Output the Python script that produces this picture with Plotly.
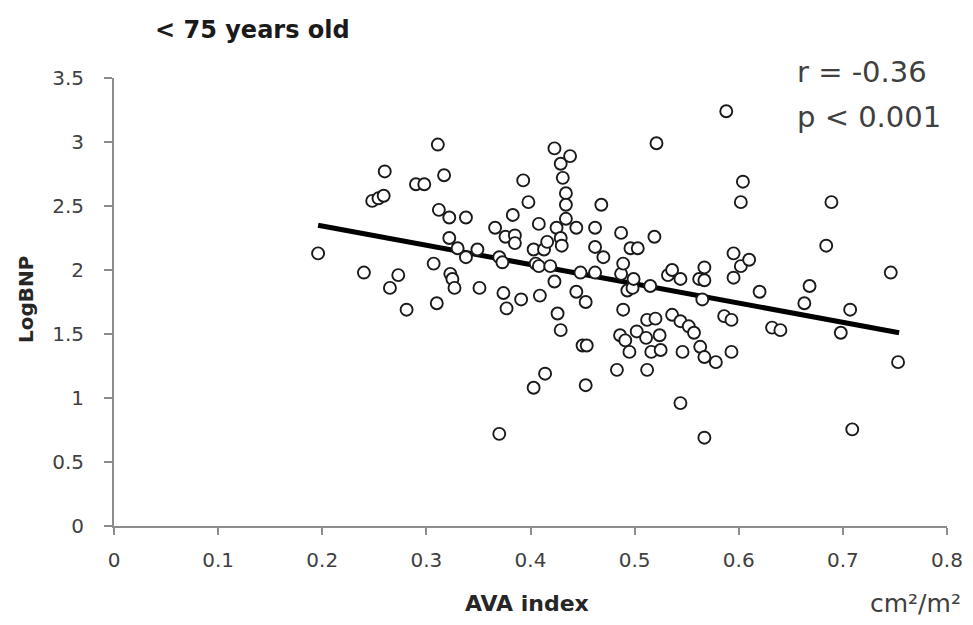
import plotly.graph_objects as go

# AVA index (cm2/m2) and LogBNP values
ava_index = [
    0.196, 0.240, 0.248, 0.254, 0.259, 0.260, 0.265, 0.273, 0.281, 0.290,
    0.298, 0.307, 0.310, 0.311, 0.312, 0.317, 0.322, 0.322, 0.323, 0.325,
    0.327, 0.330, 0.338, 0.338, 0.349, 0.351, 0.366, 0.370, 0.373, 0.370,
    0.374, 0.376, 0.377, 0.383, 0.385, 0.385, 0.391, 0.393, 0.398, 0.403,
    0.403, 0.405, 0.408, 0.408, 0.409, 0.413, 0.414, 0.416, 0.419, 0.423,
    0.423, 0.425, 0.426, 0.429, 0.429, 0.430, 0.429, 0.431, 0.434, 0.434,
    0.434, 0.438, 0.444, 0.444, 0.448, 0.450, 0.453, 0.453, 0.454, 0.462,
    0.462, 0.462, 0.468, 0.470, 0.487, 0.487, 0.489, 0.489, 0.483, 0.486,
    0.491, 0.495, 0.493, 0.498, 0.496, 0.503, 0.499, 0.502, 0.511, 0.512,
    0.512, 0.515, 0.516, 0.519, 0.520, 0.521, 0.524, 0.525, 0.532, 0.536,
    0.536, 0.544, 0.544, 0.544, 0.546, 0.552, 0.557, 0.562, 0.563, 0.565,
    0.567, 0.567, 0.567, 0.567, 0.578, 0.586, 0.588, 0.593, 0.593, 0.595,
    0.595, 0.602, 0.602, 0.604, 0.610, 0.620, 0.632, 0.640, 0.663, 0.668,
    0.684, 0.689, 0.698, 0.707, 0.709, 0.746, 0.753,
]
log_bnp = [
    2.13, 1.98, 2.54, 2.56, 2.58, 2.77, 1.86, 1.96, 1.69, 2.67,
    2.67, 2.05, 1.74, 2.98, 2.47, 2.74, 2.41, 2.25, 1.97, 1.93,
    1.86, 2.17, 2.41, 2.10, 2.16, 1.86, 2.33, 2.10, 2.06, 0.72,
    1.82, 2.26, 1.70, 2.43, 2.27, 2.21, 1.77, 2.70, 2.53, 2.16,
    1.08, 2.05, 2.03, 2.36, 1.80, 2.16, 1.19, 2.22, 2.03, 2.95,
    1.91, 2.33, 1.66, 2.83, 2.25, 2.19, 1.53, 2.72, 2.60, 2.51,
    2.40, 2.89, 2.33, 1.83, 1.98, 1.41, 1.75, 1.10, 1.41, 1.98,
    2.33, 2.18, 2.51, 2.10, 2.29, 1.97, 2.05, 1.69, 1.22, 1.49,
    1.45, 1.36, 1.84, 1.86, 2.17, 2.17, 1.93, 1.52, 1.47, 1.61,
    1.22, 1.875, 1.36, 2.26, 1.62, 2.99, 1.49, 1.375, 1.96, 2.00,
    1.65, 1.93, 1.60, 0.96, 1.36, 1.56, 1.51, 1.93, 1.40, 1.77,
    2.02, 1.92, 1.32, 0.69, 1.28, 1.64, 3.24, 1.61, 1.36, 2.13,
    1.94, 2.03, 2.53, 2.69, 2.08, 1.83, 1.55, 1.53, 1.74, 1.875,
    2.19, 2.53, 1.51, 1.69, 0.755, 1.98, 1.28,
]

# regression line end points
fit_x = [0.196, 0.754]
fit_y = [2.35, 1.51]

x_ticks = [0, 0.1, 0.2, 0.3, 0.4, 0.5, 0.6, 0.7, 0.8]
x_tick_labels = ["0", "0.1", "0.2", "0.3", "0.4", "0.5", "0.6", "0.7", "0.8"]
y_ticks = [0, 0.5, 1, 1.5, 2, 2.5, 3, 3.5]
y_tick_labels = ["0", "0.5", "1", "1.5", "2", "2.5", "3", "3.5"]

FONT = "'DejaVu Sans', sans-serif"
TXT = "#404040"
AX = "#8c8c8c"

fig = go.Figure()
fig.add_trace(go.Scatter(
    x=fit_x, y=fit_y, mode="lines",
    line=dict(color="black", width=5), hoverinfo="skip", showlegend=False,
))
fig.add_trace(go.Scatter(
    x=ava_index, y=log_bnp, mode="markers",
    marker=dict(symbol="circle", size=12, color="white",
                line=dict(color="#1a1a1a", width=1.9)),
    showlegend=False,
))

fig.update_layout(
    width=973, height=625,
    margin=dict(l=106, r=34, t=70, b=107),
    paper_bgcolor="white", plot_bgcolor="white",
    font=dict(family=FONT, color=TXT),
    xaxis=dict(
        range=[0, 0.8], tickvals=x_ticks, ticktext=x_tick_labels,
        showgrid=False, zeroline=False, showline=True,
        linecolor=AX, linewidth=2, ticks="outside", ticklen=7,
        tickcolor=AX, tickwidth=2, ticklabelstandoff=8,
        tickfont=dict(size=20, color=TXT, family=FONT),
    ),
    yaxis=dict(
        range=[0, 3.5], tickvals=y_ticks, ticktext=y_tick_labels,
        showgrid=False, zeroline=False, showline=True,
        linecolor=AX, linewidth=2, ticks="outside", ticklen=8,
        tickcolor=AX, tickwidth=2, ticklabelstandoff=16,
        tickfont=dict(size=20, color=TXT, family=FONT),
    ),
    annotations=[
        dict(text="<b>< 75 years old</b>", xref="paper", yref="paper",
             x=0.1657, y=1.107, xanchor="center", yanchor="middle",
             showarrow=False, font=dict(size=24, color="#1a1a1a", family=FONT)),
        dict(text="r = -0.36", xref="paper", yref="paper",
             x=0.8175, y=1.0134, xanchor="left", yanchor="middle",
             showarrow=False, font=dict(size=29, color=TXT, family=FONT)),
        dict(text="p < 0.001", xref="paper", yref="paper",
             x=0.8175, y=0.913, xanchor="left", yanchor="middle",
             showarrow=False, font=dict(size=29, color=TXT, family=FONT)),
        dict(text="<b>LogBNP</b>", xref="paper", yref="paper",
             x=-0.1056, y=0.5045, xanchor="center", yanchor="middle",
             textangle=-90, showarrow=False,
             font=dict(size=20, color="#262626", family=FONT)),
        dict(text="<b>AVA index</b>", xref="paper", yref="paper",
             x=0.4958, y=-0.174, xanchor="center", yanchor="middle",
             showarrow=False, font=dict(size=22, color="#262626", family=FONT)),
        dict(text="cm²/m²", xref="paper", yref="paper",
             x=0.9616, y=-0.174, xanchor="center", yanchor="middle",
             showarrow=False, font=dict(size=25, color=TXT, family=FONT)),
    ],
)

fig.write_html("out.html")
